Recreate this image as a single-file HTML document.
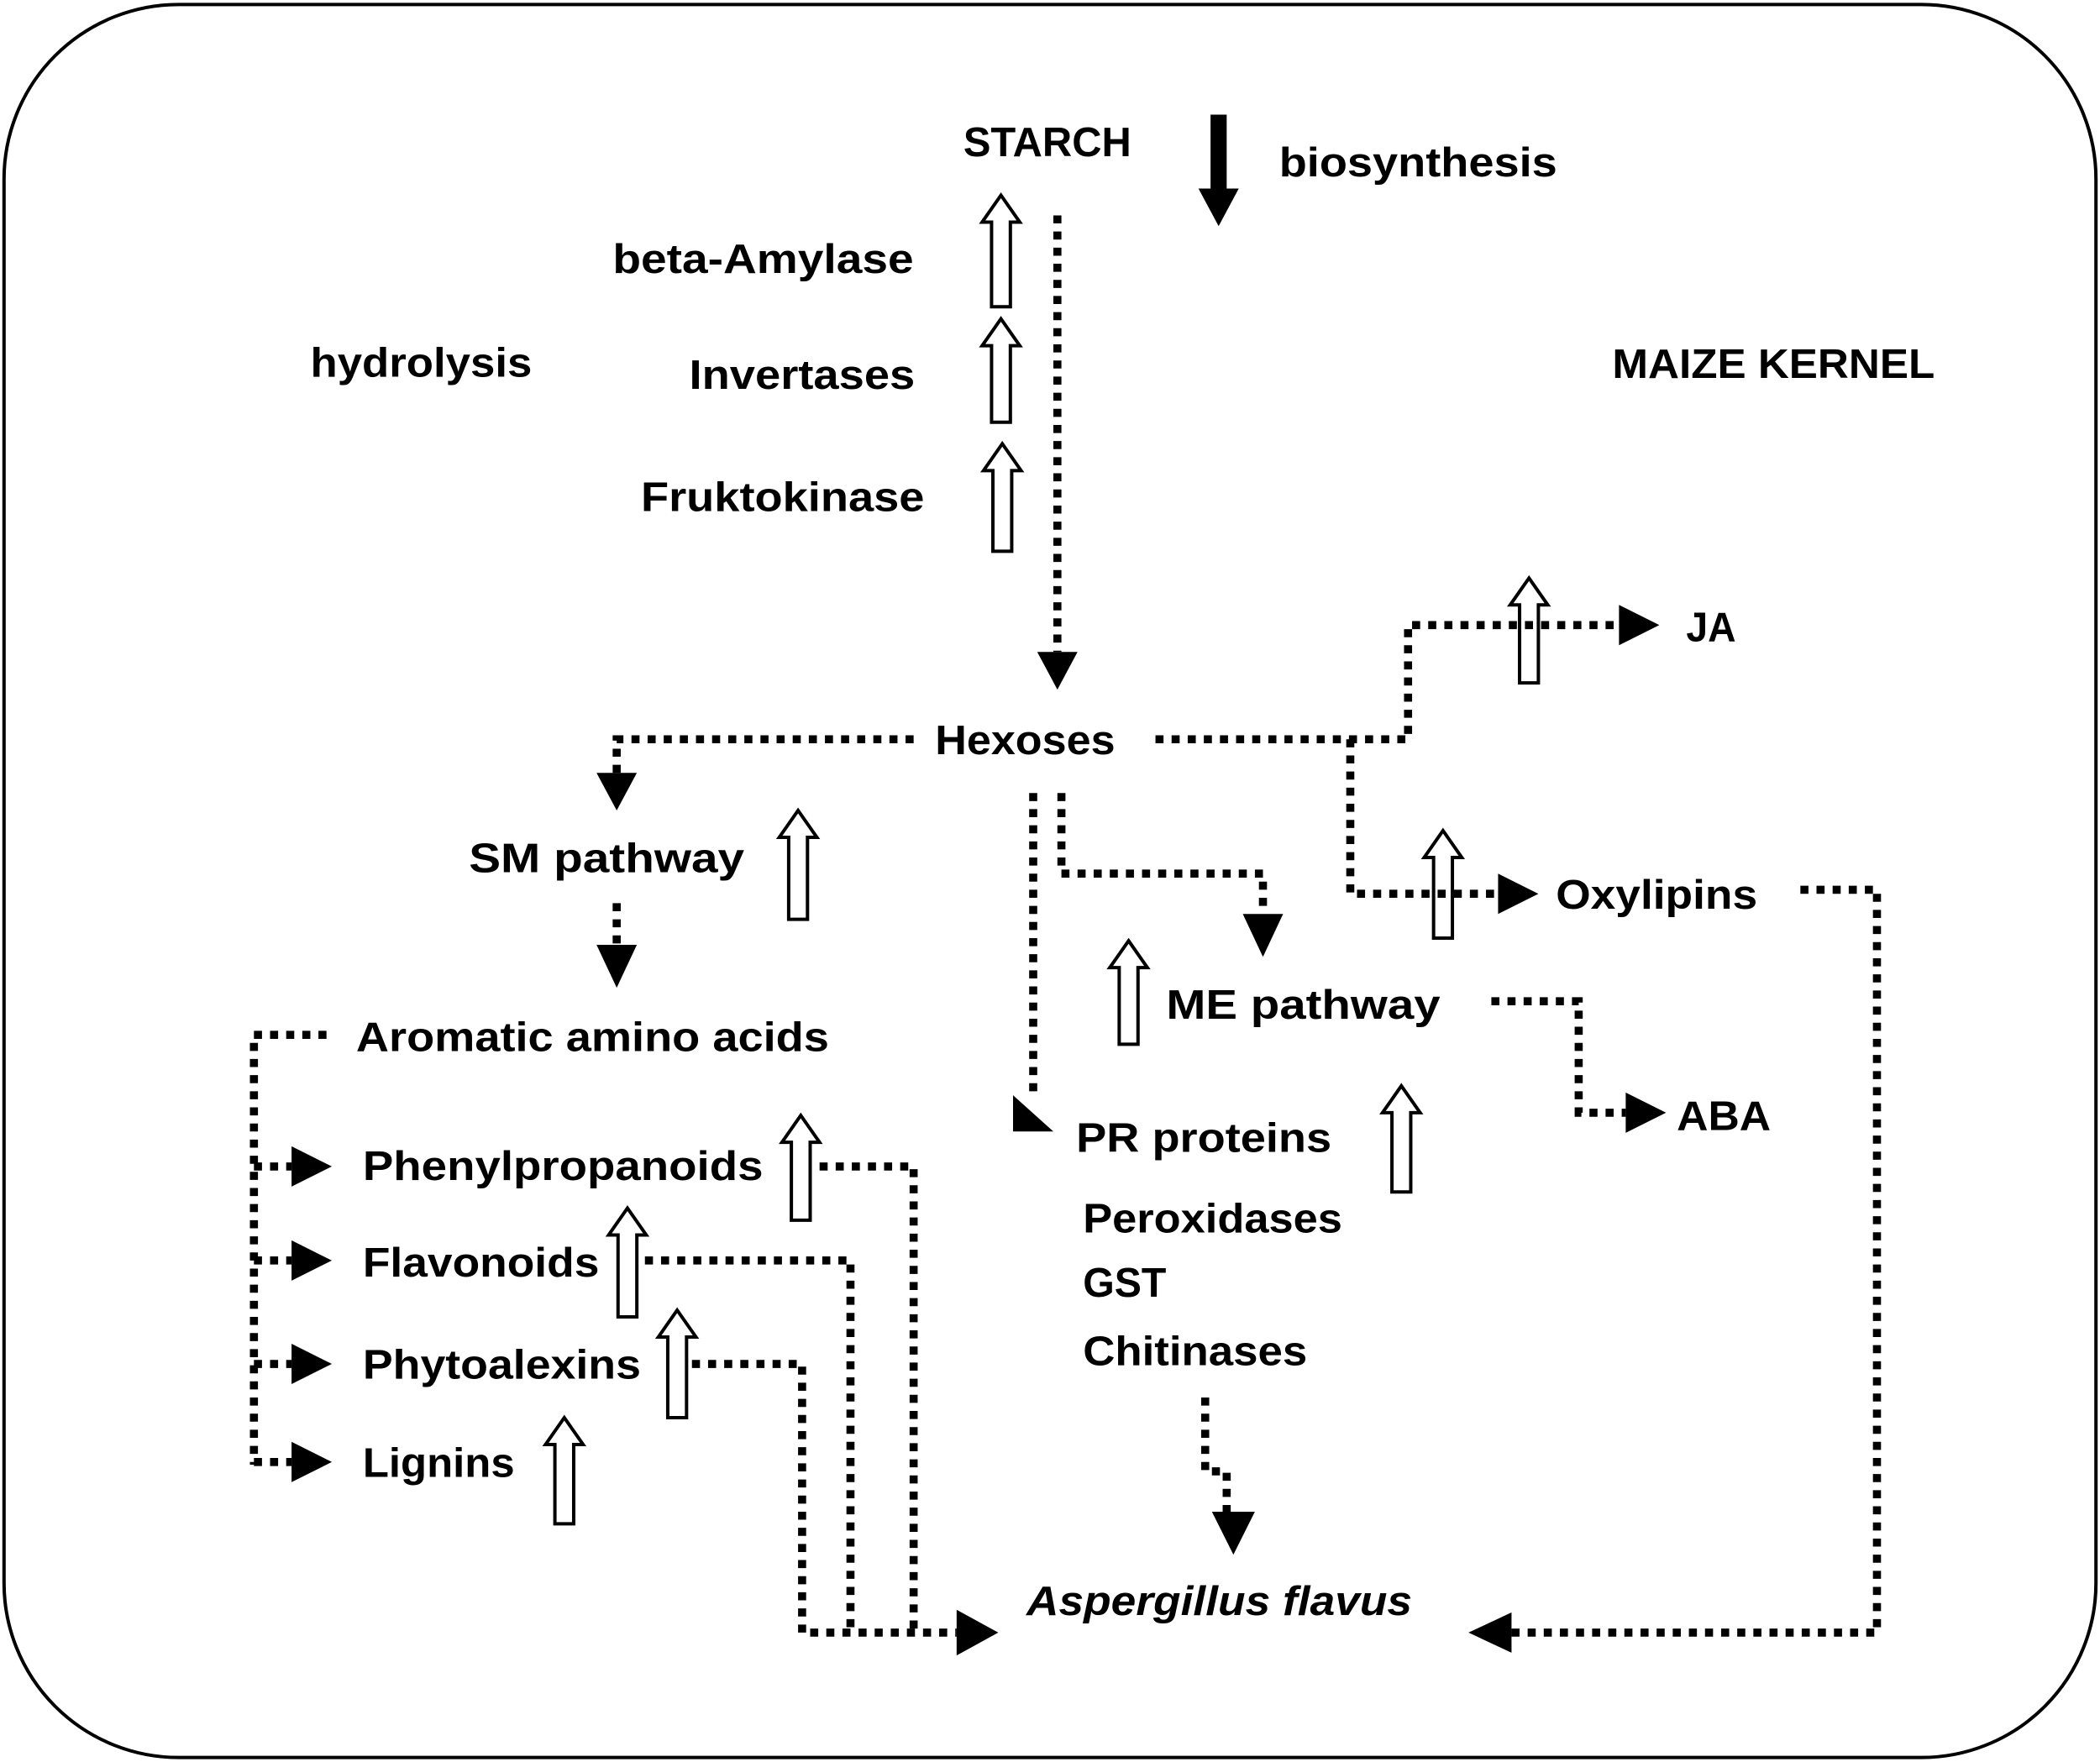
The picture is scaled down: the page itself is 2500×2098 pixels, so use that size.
<!DOCTYPE html>
<html><head><meta charset="utf-8"><style>
html,body{margin:0;padding:0;background:#fff;}
svg{display:block;}
text{font-family:"Liberation Sans",sans-serif;font-weight:bold;font-size:31px;fill:#000;}
.d{fill:none;stroke:#000;stroke-width:6;stroke-dasharray:6 6;}
.h{fill:#fff;stroke:#000;stroke-width:2.5;}
</style></head><body>
<svg width="2500" height="2098" viewBox="0 0 1563 1311" xmlns="http://www.w3.org/2000/svg">
<rect x="3" y="3" width="1557" height="1305" rx="130" ry="130" fill="#fff" stroke="#000" stroke-width="2.5"/>

<g class="h">
<polygon points="745,145 759,165 752,165 752,228 738,228 738,165 731,165"/>
<polygon points="745,237 759,257 752,257 752,314 738,314 738,257 731,257"/>
<polygon points="746,330 760,350 753,350 753,410 739,410 739,350 732,350"/>
<polygon points="1138,430 1152,450 1145,450 1145,508 1131,508 1131,450 1124,450"/>
<polygon points="594,603 608,623 601,623 601,684 587,684 587,623 580,623"/>
<polygon points="1074,618 1088,638 1081,638 1081,698 1067,698 1067,638 1060,638"/>
<polygon points="840,700 854,720 847,720 847,777 833,777 833,720 826,720"/>
<polygon points="1043,808 1057,828 1050,828 1050,887 1036,887 1036,828 1029,828"/>
<polygon points="596,830 610,850 603,850 603,908 589,908 589,850 582,850"/>
<polygon points="467,899 481,919 474,919 474,980 460,980 460,919 453,919"/>
<polygon points="504,975 518,995 511,995 511,1055 497,1055 497,995 490,995"/>
<polygon points="420,1055 434,1075 427,1075 427,1134 413,1134 413,1075 406,1075"/>
</g>
<polygon points="901,85 913,85 913,140 922,140 907,168 892,140 901,140" fill="#000"/>

<path class="d" d="M787,160 V485"/>
<path class="d" d="M680,550 H459 V575"/>
<path class="d" d="M860,550 H1048 V465 H1205"/>
<path class="d" d="M1005,550 V665 H1115"/>
<path class="d" d="M769,590 V812"/>
<path class="d" d="M790,590 V650 H940 V680"/>
<path class="d" d="M459,672 V702"/>
<path class="d" d="M1110,745 H1175 V828 H1210"/>
<path class="d" d="M1340,662 H1397 V1215 H1125"/>
<path class="d" d="M243,770 H189 V1090"/>
<path class="d" d="M189,868 H217 M189,938 H217 M189,1015 H217 M189,1088 H217"/>
<path class="d" d="M610,868 H680 V1215"/>
<path class="d" d="M480,938 H633 V1215"/>
<path class="d" d="M515,1015 H597 V1215 H712"/>
<path class="d" d="M897,1040 V1095 H913 V1125"/>

<g fill="#000">
<polygon points="772,485 802,485 787,513"/>
<polygon points="444,575 474,575 459,603"/>
<polygon points="1205,450 1235,465 1205,480"/>
<polygon points="1115,650 1145,665 1115,680"/>
<polygon points="754,815 784,842 754,842"/>
<polygon points="925,680 955,680 940,712"/>
<polygon points="444,703 474,703 459,735"/>
<polygon points="1210,813 1240,828 1210,843"/>
<polygon points="1125,1200 1093,1215 1125,1230"/>
<polygon points="217,853 247,868 217,883"/>
<polygon points="217,923 247,938 217,953"/>
<polygon points="217,1000 247,1015 217,1030"/>
<polygon points="217,1073 247,1088 217,1103"/>
<polygon points="712,1198 743,1215 712,1232"/>
<polygon points="902,1125 934,1125 918,1157"/>
</g>

<text x="717" y="116" textLength="125" lengthAdjust="spacingAndGlyphs">STARCH</text>
<text x="952" y="131" textLength="207" lengthAdjust="spacingAndGlyphs">biosynthesis</text>
<text x="456" y="203" textLength="224" lengthAdjust="spacingAndGlyphs">beta-Amylase</text>
<text x="231" y="280" textLength="165" lengthAdjust="spacingAndGlyphs">hydrolysis</text>
<text x="513" y="289" textLength="168" lengthAdjust="spacingAndGlyphs">Invertases</text>
<text x="1200" y="281" textLength="240" lengthAdjust="spacingAndGlyphs">MAIZE KERNEL</text>
<text x="477" y="380" textLength="211" lengthAdjust="spacingAndGlyphs">Fruktokinase</text>
<text x="1255" y="477" textLength="37" lengthAdjust="spacingAndGlyphs">JA</text>
<text x="696" y="561" textLength="134" lengthAdjust="spacingAndGlyphs">Hexoses</text>
<text x="349" y="649" textLength="205" lengthAdjust="spacingAndGlyphs">SM pathway</text>
<text x="1158" y="676" textLength="150" lengthAdjust="spacingAndGlyphs">Oxylipins</text>
<text x="868" y="758" textLength="204" lengthAdjust="spacingAndGlyphs">ME pathway</text>
<text x="265" y="782" textLength="352" lengthAdjust="spacingAndGlyphs">Aromatic amino acids</text>
<text x="801" y="857" textLength="190" lengthAdjust="spacingAndGlyphs">PR proteins</text>
<text x="1248" y="841" textLength="70" lengthAdjust="spacingAndGlyphs">ABA</text>
<text x="270" y="878" textLength="298" lengthAdjust="spacingAndGlyphs">Phenylpropanoids</text>
<text x="806" y="917" textLength="193" lengthAdjust="spacingAndGlyphs">Peroxidases</text>
<text x="270" y="950" textLength="176" lengthAdjust="spacingAndGlyphs">Flavonoids</text>
<text x="806" y="965" textLength="62" lengthAdjust="spacingAndGlyphs">GST</text>
<text x="270" y="1026" textLength="207" lengthAdjust="spacingAndGlyphs">Phytoalexins</text>
<text x="806" y="1016" textLength="167" lengthAdjust="spacingAndGlyphs">Chitinases</text>
<text x="270" y="1099" textLength="113" lengthAdjust="spacingAndGlyphs">Lignins</text>
<text x="764" y="1202" font-style="italic" textLength="287" lengthAdjust="spacingAndGlyphs">Aspergillus flavus</text>
</svg>
</body></html>
